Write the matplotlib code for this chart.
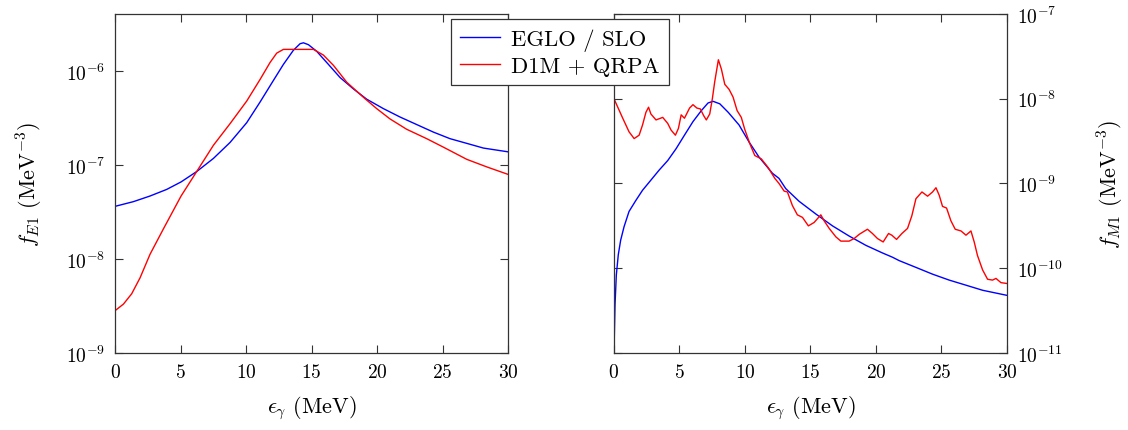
import numpy as np
import matplotlib
matplotlib.use("Agg")
import matplotlib.pyplot as plt
from matplotlib.ticker import NullLocator, FuncFormatter

plt.rcParams["font.family"] = "cmr10"
plt.rcParams["mathtext.fontset"] = "cm"
plt.rcParams["axes.formatter.use_mathtext"] = True

# E1 strength, energies in MeV, values as log10(f / MeV^-3)
e1_blue_x = [0, 1.40, 2.67, 3.94, 5.04, 6.23, 7.51, 8.78, 10.05, 11.07, 12.09, 12.85, 13.61,
             14.12, 14.38, 14.76, 15.39, 16.16, 17.18, 18.19, 19.21, 20.48, 21.76, 23.03,
             24.30, 25.57, 26.85, 28.12, 30]
e1_blue_log = [-7.44, -7.39, -7.33, -7.26, -7.18, -7.07, -6.93, -6.76, -6.55, -6.33, -6.10,
               -5.93, -5.78, -5.71, -5.70, -5.72, -5.79, -5.91, -6.07, -6.19, -6.30, -6.40,
               -6.49, -6.57, -6.65, -6.72, -6.77, -6.82, -6.86]
e1_red_x = [0, 0.64, 1.27, 1.91, 2.67, 3.69, 5.04, 6.23, 7.51, 8.78, 10.05, 11.07, 11.83,
            12.34, 12.85, 13.61, 15.14, 15.90, 16.67, 17.69, 18.96, 19.97, 20.99, 22.26,
            23.79, 25.06, 26.85, 28.37, 30]
e1_red_log = [-8.55, -8.48, -8.37, -8.20, -7.95, -7.68, -7.33, -7.07, -6.79, -6.56, -6.32,
              -6.09, -5.91, -5.81, -5.77, -5.77, -5.77, -5.83, -5.94, -6.12, -6.28, -6.40,
              -6.51, -6.62, -6.72, -6.81, -6.94, -7.02, -7.10]

# M1 strength
m1_blue_x = [0, 0.08, 0.18, 0.33, 0.51, 0.77, 1.15, 1.67, 2.18, 2.82, 3.46, 4.10, 4.74, 5.38,
             6.03, 6.67, 7.18, 7.56, 8.08, 8.72, 9.55, 10.31, 11.08, 12.10, 12.60, 13.11,
             14.13, 15.41, 16.68, 17.95, 19.23, 20.50, 21.26, 21.77, 23.05, 24.32, 25.59,
             26.87, 28.14, 30]
m1_blue_log = [-11.0, -10.43, -10.08, -9.84, -9.67, -9.51, -9.33, -9.20, -9.08, -8.96, -8.84,
               -8.73, -8.59, -8.43, -8.27, -8.14, -8.05, -8.03, -8.06, -8.16, -8.31, -8.51,
               -8.69, -8.88, -8.94, -9.06, -9.21, -9.36, -9.50, -9.62, -9.73, -9.82, -9.87,
               -9.91, -9.99, -10.07, -10.14, -10.20, -10.26, -10.32]
m1_red_x = [0, 0.64, 1.15, 1.54, 1.92, 2.18, 2.44, 2.64, 2.82, 3.21, 3.72, 4.10, 4.36, 4.69,
            4.92, 5.13, 5.38, 5.77, 6.03, 6.33, 6.59, 6.85, 7.05, 7.31, 7.51, 7.69, 7.97,
            8.20, 8.46, 8.79, 9.09, 9.40, 9.72, 9.98, 10.37, 10.75, 11.25, 11.76, 12.28,
            12.60, 12.99, 13.24, 13.62, 14.00, 14.39, 14.84, 15.28, 15.79, 16.04, 16.43,
            16.94, 17.32, 17.95, 18.33, 18.72, 19.35, 19.73, 20.12, 20.55, 20.96, 21.21,
            21.57, 21.98, 22.41, 22.74, 23.05, 23.51, 23.94, 24.32, 24.58, 24.83, 25.08,
            25.39, 25.72, 26.05, 26.49, 26.87, 27.25, 27.50, 27.75, 28.14, 28.52, 28.90,
            29.16, 29.54, 30]
m1_red_log = [-8.00, -8.22, -8.39, -8.47, -8.43, -8.31, -8.16, -8.10, -8.18, -8.25, -8.22,
              -8.29, -8.37, -8.43, -8.35, -8.19, -8.23, -8.11, -8.07, -8.11, -8.12, -8.20,
              -8.25, -8.18, -8.00, -7.80, -7.54, -7.65, -7.83, -7.89, -7.98, -8.14, -8.22,
              -8.36, -8.53, -8.67, -8.71, -8.81, -8.94, -9.00, -9.09, -9.10, -9.26, -9.37,
              -9.40, -9.50, -9.46, -9.37, -9.44, -9.53, -9.63, -9.68, -9.68, -9.65, -9.60,
              -9.54, -9.59, -9.65, -9.69, -9.59, -9.61, -9.66, -9.59, -9.53, -9.38, -9.18,
              -9.10, -9.15, -9.10, -9.05, -9.14, -9.27, -9.29, -9.44, -9.54, -9.56, -9.61,
              -9.56, -9.69, -9.85, -10.02, -10.13, -10.14, -10.12, -10.17, -10.18]

labels = ["EGLO / SLO", "D1M + QRPA"]
xticks = [0, 5, 10, 15, 20, 25, 30]
e1_yticks = [1e-9, 1e-8, 1e-7, 1e-6]
m1_yticks = [1e-11, 1e-10, 1e-9, 1e-8, 1e-7]

fig = plt.figure(figsize=(11.28, 4.31), dpi=100)
ax1 = fig.add_axes([0.102, 0.1787, 0.3484, 0.7865])
ax2 = fig.add_axes([0.5443, 0.1787, 0.3484, 0.7865])

pow_fmt = FuncFormatter(lambda v, pos: r"$10^{%d}$" % round(np.log10(v)))


def style(ax, yticks):
    ax.set_yscale("log")
    ax.set_xlim(0, 30)
    ax.set_xticks(xticks)
    ax.set_yticks(yticks)
    ax.yaxis.set_minor_locator(NullLocator())
    ax.yaxis.set_major_formatter(pow_fmt)
    ax.tick_params(direction="in", length=6, width=0.8, color="#333333",
                   top=True, right=True, labelsize=14, pad=7)
    for s in ax.spines.values():
        s.set_linewidth(0.9)
        s.set_color("#333333")
    ax.set_xlabel(r"$\epsilon_\gamma$ (MeV)", fontsize=16, labelpad=9)


ax1.plot(e1_blue_x, 10 ** np.array(e1_blue_log), color="#0000ff", lw=1.0, label=labels[0])
ax1.plot(e1_red_x, 10 ** np.array(e1_red_log), color="#ff0000", lw=1.0, label=labels[1])
style(ax1, e1_yticks)
ax1.set_ylim(1e-9, 4.04e-6)
ax1.set_ylabel(r"$f_{E1}$ (MeV$^{-3}$)", fontsize=16, labelpad=15)

ax2.plot(m1_blue_x, 10 ** np.array(m1_blue_log), color="#0000ff", lw=1.0)
ax2.plot(m1_red_x, 10 ** np.array(m1_red_log), color="#ff0000", lw=1.0)
style(ax2, m1_yticks)
ax2.set_ylim(1e-11, 1e-7)
ax2.yaxis.tick_right()
ax2.tick_params(left=True, right=True, labelleft=False, labelright=True)
ax2.yaxis.set_label_position("right")
ax2.set_ylabel(r"$f_{M1}$ (MeV$^{-3}$)", fontsize=16, labelpad=24)

h, l = ax1.get_legend_handles_labels()
leg = fig.legend(h, l, loc="upper left", bbox_to_anchor=(0.3998, 0.9536), fontsize=16.3,
                 frameon=True, fancybox=False, edgecolor="#333333", framealpha=1,
                 handlelength=1.75, handletextpad=0.5, borderpad=0.4, labelspacing=0.25,
                 borderaxespad=0)
leg.get_frame().set_linewidth(0.9)

fig.savefig("out.png", dpi=100)
